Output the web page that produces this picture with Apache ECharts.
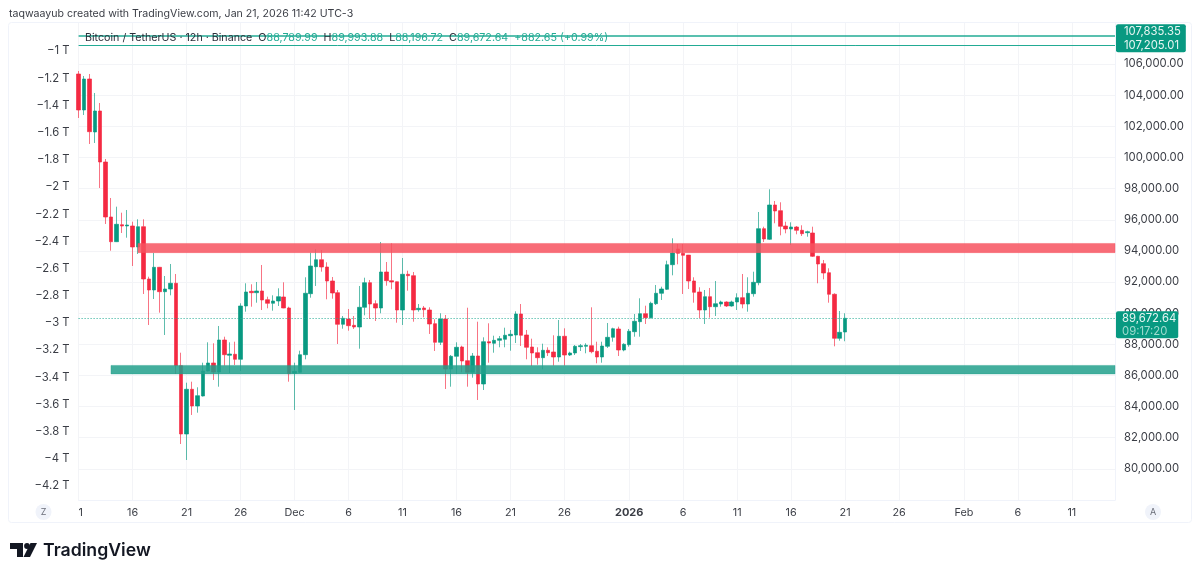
<!DOCTYPE html>
<html>
<head>
<meta charset="utf-8">
<style>
  html, body { margin: 0; padding: 0; background: #fff; }
  #chart { width: 1200px; height: 577px; }
</style>
<script src="https://cdn.jsdelivr.net/npm/echarts@6/dist/echarts.min.js"></script>
</head>
<body>
<div id="chart"></div>
<script>
var opens = [
  105365,103052,105043,101639,102988,99712,96179,94592,95684,95601,
  95601,94252,95556,92196,91490,92948,91380,91554,91920,86627,
  82240,85111,84039,84681,86287,86801,86222,88278,87295,87360,
  87038,90462,91406,91316,91426,90867,90636,90783,91040,90334,
  86139,86203,87334,91252,92987,93436,92967,92068,91316,89286,
  89627,89222,89113,90378,91959,90610,90334,92646,92087,92020,
  90205,92498,92408,90224,90334,90205,89325,88130,89627,86415,
  87231,87828,86949,86203,87250,85452,88169,88066,88258,88322,
  88554,88599,89948,88599,87828,87462,87141,87616,87507,87186,
  88516,87314,87443,87848,87873,87912,87552,87186,87873,88451,
  88985,87635,87975,88811,89454,89967,89710,90610,91278,91535,
  93115,94124,93847,93730,92068,91361,90205,91060,90417,90590,
  90719,90462,90719,90995,90590,91252,91959,95428,94746,96950,
  96584,95601,95408,95537,95324,95170,95151,93655,93179,92600,
  91214,88387,88789.99
];
var closes = [
  103052,105043,101658,102988,99712,96179,94592,95710,95601,95665,
  94252,95556,92196,91490,92948,91380,91554,91920,86627,82240,
  85111,84039,84700,86287,86801,86222,88278,87334,87378,87038,
  90462,91361,91316,91426,90848,90636,90783,91060,90334,86113,
  86267,87334,91278,93031,93436,92967,92068,91297,89286,89672,
  89196,89113,90378,91959,90590,90334,92646,92087,92004,90205,
  92498,92408,90205,90314,90224,89306,88130,89627,86415,87231,
  87809,86929,86203,87250,85452,88169,88085,88258,88362,88580,
  88644,89948,88580,87809,87443,87141,87616,87462,87186,88516,
  87314,87443,87873,87912,87937,87526,87186,87892,88451,89004,
  87635,88002,88837,89479,89967,89710,90635,91278,91554,93115,
  93867,93847,93719,92068,91342,90205,91060,90417,90610,90719,
  90462,90719,90995,90590,91278,91984,95428,94766,96950,96565,
  95581,95408,95537,95324,95106,95235,93655,93160,92581,91214,
  88387,88772,89672.64
];
var lows = [
  102538,102731,100868,100932,98042,95729,94014,94570,95151,94849,
  93031,93802,91233,89242,90912,90032,88599,91149,86094,81598,
  80570,83461,83609,84650,86260,85709,85278,86627,86158,86672,
  86287,90096,90417,90674,90205,90314,90160,90462,90320,85599,
  83782,86158,87038,90995,91747,92666,90892,90931,88021,89004,
  88875,88985,87719,89864,89627,89498,89993,91766,91535,89389,
  89242,91445,89453,90096,89736,88664,87571,87957,85131,85278,
  86094,86203,85278,85857,84424,85066,86820,87462,87809,87809,
  87590,88085,87893,87038,86607,86691,86395,87250,86627,86883,
  86627,87250,87314,87571,87424,87424,86781,86820,87764,88169,
  87250,87552,87847,88490,88490,89306,89660,90526,90847,91490,
  92433,93140,91233,91554,90674,89672,89306,89710,89819,90417,
  90398,90417,90205,90314,90096,91060,91791,94573,94702,95775,
  95003,95131,94380,95067,94958,94913,93610,91920,92176,90674,
  87873,88233,88196.72
];
var highs = [
  105557,105236,105365,104144,103502,99905,97399,96841,96455,96629,
  95877,96031,96031,92344,93867,92970,92389,93160,92518,87462,
  85535,85599,85240,86820,88130,88066,89177,88490,88130,88169,
  90636,91920,91856,92004,93096,91060,91149,91599,91985,90417,
  86820,87591,92306,93886,94104,94059,93269,92325,91490,89819,
  90269,89819,91747,92280,92132,90828,94573,93288,94490,92030,
  93545,92730,92646,90590,90462,90378,89608,89993,89884,87314,
  88130,87912,90352,87443,89453,88451,89350,88554,88535,89068,
  88921,90121,90590,88921,88362,87809,88041,87809,88580,89563,
  89029,87526,87957,88021,88066,90378,88169,88169,89370,89068,
  89133,88066,88985,89948,90957,90481,90738,91811,91702,93372,
  94810,94445,94445,93740,92306,91664,91490,91618,92068,90803,
  90764,90803,91278,92518,92306,92665,96500,95556,97958,97207,
  97123,95877,95838,95601,95646,95299,95556,93680,93417,92883,
  91278,90141,89993.88
];

// one category every 12 hours, the chart leaves room to Feb
var barCount = 193;
var categories = [];
for (var i = 0; i < barCount; i++) {
  categories.push(new Date(Date.UTC(2025, 10, 11) + i * 43200000).toISOString().slice(0, 13));
}
var tickBars = [0, 10, 20, 30, 40, 50, 60, 70, 80, 90, 102, 112, 122, 132, 142, 152, 164, 174, 184];
var tickLabels = ['1', '16', '21', '26', 'Dec', '6', '11', '16', '21', '26', '2026', '6', '11', '16', '21', '26', 'Feb', '6', '11'];

var priceTicks = [80000, 82000, 84000, 86000, 88000, 90000, 92000, 94000, 96000, 98000, 100000, 102000, 104000, 106000];
var leftTicks = [-4.2, -4, -3.8, -3.6, -3.4, -3.2, -3, -2.8, -2.6, -2.4, -2.2, -2, -1.8, -1.6, -1.4, -1.2, -1];

var redBand = [93890, 94480];
var greenBand = [86100, 86644];
var highLines = [107835.35, 107205.01];
var lastPrice = 89672.64;
var countdown = '09:17:20';

var UP = '#089981';
var DOWN = '#f42a42';
var TEAL = '#22ab94';
var GRID = '#f3f4f7';
var FONT = 'Inter';
var AXIS_SIZE = 11.3;

var candles = [];
for (var k = 0; k < opens.length; k++) {
  candles.push([opens[k], closes[k], lows[k], highs[k]]);
}

var money = function (v) {
  return v.toLocaleString('en-US', { minimumFractionDigits: 2, maximumFractionDigits: 2 });
};

var chart = echarts.init(document.getElementById('chart'), null, { renderer: 'canvas' });
var option = {
  animation: false,
  backgroundColor: '#fff',
  textStyle: { fontFamily: FONT },
  title: [{
    text: 'taqwaayub created with TradingView.com, Jan 21, 2026 11:42 UTC-3',
    left: 9, top: 8, padding: 0,
    textStyle: { fontFamily: FONT, fontSize: 10.6, fontWeight: 'normal', color: '#3a3d45' }
  }, {
    text: '{k|Bitcoin / TetherUS · 12h · Binance}  {k|O}{v|88,789.99}  {k|H}{v|89,993.88}  {k|L}{v|88,196.72}  {k|C}{v|89,672.64}  {v|+882.65 (+0.99%)}',
    left: 85, top: 32, padding: 0,
    textStyle: {
      fontFamily: FONT, fontSize: 10.7, fontWeight: 'normal',
      rich: {
        k: { fontFamily: FONT, fontSize: 10.7, color: '#2a2e39' },
        v: { fontFamily: FONT, fontSize: 10.7, color: '#22ab94' }
      }
    }
  }],
  grid: { left: 78.6, right: 85, top: 23, height: 477, containLabel: false },
  xAxis: {
    type: 'category',
    data: categories,
    boundaryGap: false,
    axisLine: { show: true, lineStyle: { color: '#f0f3fa' } },
    axisTick: { show: false },
    axisLabel: {
      margin: 7,
      alignMinLabel: 'left',
      hideOverlap: false,
      fontFamily: FONT,
      fontSize: 10.8,
      color: '#3a3d45',
      interval: function (idx) { return tickBars.indexOf(idx) >= 0; },
      formatter: function (value, idx) {
        var label = tickLabels[tickBars.indexOf(idx)];
        return label === '2026' ? '{year|2026}' : label;
      },
      rich: { year: { fontFamily: FONT, fontSize: 11, fontWeight: 'bold', color: '#3a3d45' } }
    },
    splitLine: {
      show: true,
      interval: function (idx) { return tickBars.indexOf(idx) >= 0; },
      lineStyle: { color: GRID, width: 1 }
    }
  },
  yAxis: [{
    type: 'value',
    position: 'right',
    min: 78000,
    max: 108640,
    axisLine: { show: true, lineStyle: { color: '#f0f3fa' } },
    axisTick: { show: false, customValues: priceTicks },
    axisLabel: {
      customValues: priceTicks,
      margin: 9,
      padding: [2, 0, 0, 0],
      fontFamily: FONT,
      fontSize: AXIS_SIZE,
      color: '#3a3d45',
      formatter: function (v) { return money(v); }
    },
    splitLine: { show: true, lineStyle: { color: GRID, width: 1 } }
  }, {
    type: 'value',
    position: 'left',
    min: -4.303,
    max: -0.794,
    axisLine: { show: false },
    axisTick: { show: false, customValues: leftTicks },
    splitLine: { show: false },
    axisLabel: {
      customValues: leftTicks,
      margin: 9,
      fontFamily: FONT,
      fontSize: AXIS_SIZE,
      color: '#3a3d45',
      formatter: function (v) { return '\u2212' + Math.abs(v) + ' T'; }
    }
  }],
  series: [{
    type: 'candlestick',
    name: 'BTCUSDT',
    yAxisIndex: 0,
    data: candles,
    barWidth: 4,
    z: 2,
    itemStyle: {
      color: UP, color0: DOWN,
      borderColor: 'rgba(8,153,129,0.65)', borderColor0: 'rgba(244,42,66,0.65)',
      borderWidth: 1
    },
    markArea: {
      silent: true,
      z: 5,
      data: [
        [{ xAxis: 11, yAxis: redBand[0], itemStyle: { color: 'rgba(247,82,95,0.85)', borderColor: 'rgba(247,82,95,0.4)', borderWidth: 1 } },
         { xAxis: barCount - 1, yAxis: redBand[1] }],
        [{ xAxis: 6, yAxis: greenBand[0], itemStyle: { color: 'rgba(34,160,140,0.85)', borderColor: 'rgba(34,160,140,0.4)', borderWidth: 1 } },
         { xAxis: barCount - 1, yAxis: greenBand[1] }]
      ]
    },
    markLine: {
      silent: true,
      symbol: 'none',
      z: 6,
      label: { show: false },
      data: [{
        yAxis: highLines[0],
        lineStyle: { color: TEAL, width: 1.5, type: 'solid' },
        label: { show: false }
      }, {
        yAxis: highLines[1],
        lineStyle: { color: TEAL, width: 1, type: 'solid' },
        label: {
          show: true,
          position: 'end',
          distance: 0,
          offset: [1, -7],
          formatter: money(highLines[0]) + '\n' + money(highLines[1]),
          fontFamily: FONT,
          fontSize: AXIS_SIZE,
          lineHeight: 14,
          color: '#e8f6f3',
          align: 'left',
          backgroundColor: UP,
          borderRadius: 2,
          padding: [0, 5, 0, 8]
        }
      }, {
        yAxis: lastPrice,
        lineStyle: { color: TEAL, width: 1, type: [1, 2] },
        label: {
          show: true,
          position: 'end',
          distance: 0,
          offset: [1, 6.5],
          formatter: money(lastPrice) + '\n{t|' + countdown + '}',
          fontFamily: FONT,
          fontSize: AXIS_SIZE,
          lineHeight: 13,
          color: '#e8f6f3',
          align: 'left',
          backgroundColor: UP,
          borderRadius: 2,
          padding: [1, 2, 0, 6],
          rich: { t: { fontFamily: FONT, fontSize: AXIS_SIZE, lineHeight: 13, color: '#9fdccf' } }
        }
      }]
    }
  }],
  graphic: [
    // frame around the whole pane
    { type: 'rect', z: -1, silent: true, shape: { x: 8.5, y: 22.5, width: 1183, height: 500, r: 3 }, style: { fill: 'none', stroke: '#f0f3fa', lineWidth: 1 } },
    // bottom corner badges
    { type: 'circle', silent: true, shape: { cx: 43.5, cy: 512, r: 8 }, style: { fill: '#f0f3fa' } },
    { type: 'text', silent: true, style: { x: 43.5, y: 512, text: 'Z', align: 'center', verticalAlign: 'middle', fontFamily: FONT, fontSize: 9, fill: '#6a6d78' } },
    { type: 'circle', silent: true, shape: { cx: 1153, cy: 512, r: 8 }, style: { fill: '#f0f3fa' } },
    { type: 'text', silent: true, style: { x: 1153, y: 512, text: 'A', align: 'center', verticalAlign: 'middle', fontFamily: FONT, fontSize: 9, fill: '#6a6d78' } },
    // logo
    { type: 'polygon', silent: true, shape: { points: [[10, 543], [23, 543], [23, 557], [17, 557], [17, 549], [10, 549]] }, style: { fill: '#131722' } },
    { type: 'circle', silent: true, shape: { cx: 27, cy: 546, r: 2.9 }, style: { fill: '#131722' } },
    { type: 'polygon', silent: true, shape: { points: [[30.5, 543], [37, 543], [30, 557], [23.5, 557]] }, style: { fill: '#131722' } },
    { type: 'text', silent: true, style: { x: 43, y: 551, text: 'TradingView', verticalAlign: 'middle', fontFamily: FONT, fontSize: 17.7, fontWeight: 600, fill: '#131722' } }
  ]
};
chart.setOption(option);
</script>
</body>
</html>
